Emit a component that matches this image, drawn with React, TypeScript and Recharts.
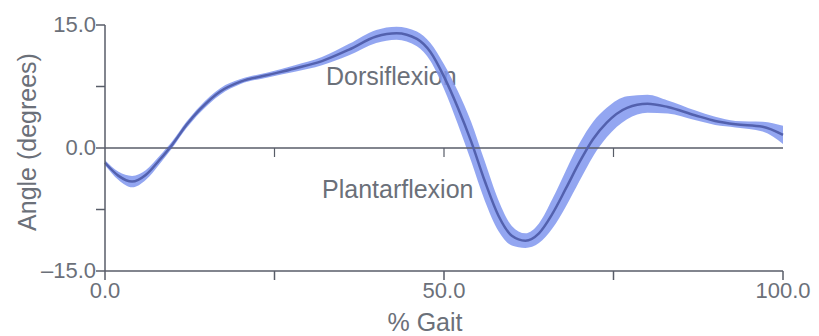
import { ComposedChart, Area, Line, XAxis, YAxis, ReferenceLine } from "recharts";

// % of gait cycle
const gaitPct = [
  0, 2, 4, 6, 8, 10, 12, 14, 17, 20, 24, 28, 32, 36, 40, 43, 46, 48, 50, 52,
  54, 56, 58, 60, 62, 64, 66, 68, 70, 72, 74, 77, 80, 83, 87, 90, 93, 97, 100,
];
// mean ankle angle (degrees)
const meanAngle = [
  -1.8, -3.4, -4.1, -3.3, -1.5, 0.5, 2.8, 4.7, 6.9, 8.1, 8.9, 9.7, 10.6, 12.0,
  13.6, 14.0, 13.3, 11.7, 8.7, 5.0, 0.8, -4.0, -8.2, -10.7, -11.3, -10.4, -8.0,
  -4.9, -1.7, 1.1, 3.1, 4.9, 5.4, 5.0, 4.0, 3.3, 2.9, 2.6, 1.6,
];
// half-width of the shaded band
const sdAngle = [
  0.3, 0.5, 0.7, 0.6, 0.5, 0.4, 0.4, 0.4, 0.4, 0.3, 0.3, 0.4, 0.5, 0.7, 0.8,
  0.8, 0.9, 1.1, 1.5, 2.0, 2.4, 2.4, 1.9, 1.2, 0.9, 1.2, 1.8, 2.2, 2.3, 2.1,
  1.8, 1.4, 1.1, 0.8, 0.6, 0.5, 0.4, 0.6, 1.1,
];

const xTicks = [0, 25, 50, 75, 100];
const yTicks = [-15, -7.5, 0, 7.5, 15];
const xLabelled = [0, 50, 100];
const yLabelled = [-15, 0, 15];

const data = gaitPct.map((x, i) => ({
  x,
  mean: meanAngle[i],
  band: [meanAngle[i] - sdAngle[i], meanAngle[i] + sdAngle[i]],
}));

const axisColor = "#585d68";
const textColor = "#6b7079";
const font = "'Liberation Sans', Arial, sans-serif";

const fmt = (v: number) => (v < 0 ? `\u2013${Math.abs(v).toFixed(1)}` : v.toFixed(1));

const YTick = (props: any) => {
  const { x, y, payload } = props;
  if (!yLabelled.includes(payload.value)) return <g />;
  return (
    <text x={x + 2} y={y} dy={7} textAnchor="end" fill={textColor} fontSize={22} fontFamily={font}>
      {fmt(payload.value)}
    </text>
  );
};

const XTick = (props: any) => {
  const { x, y, payload } = props;
  if (!xLabelled.includes(payload.value)) return <g />;
  return (
    <text x={x} y={y} dy={16} textAnchor="middle" fill={textColor} fontSize={22} fontFamily={font}>
      {fmt(payload.value)}
    </text>
  );
};

export default function App() {
  return (
    <div style={{ position: "absolute", left: 0, top: 0, background: "#fff" }}>
      <ComposedChart
        width={819}
        height={336}
        data={data}
        margin={{ top: 25, right: 36, bottom: 35, left: 45 }}
      >
        <XAxis
          dataKey="x"
          type="number"
          domain={[0, 100]}
          ticks={xTicks}
          tick={<XTick />}
          tickSize={9}
          stroke={axisColor}
          strokeWidth={1.5}
          height={30}
        />
        <YAxis
          type="number"
          domain={[-15, 15]}
          ticks={yTicks}
          tick={<YTick />}
          tickSize={9}
          stroke={axisColor}
          strokeWidth={1.5}
          width={60}
        />
        <ReferenceLine y={0} stroke={axisColor} strokeWidth={1.5} />
        {[25, 50, 75].map((t) => (
          <ReferenceLine
            key={t}
            segment={[
              { x: t, y: 0 },
              { x: t, y: -1.1 },
            ]}
            stroke={axisColor}
            strokeWidth={1.2}
          />
        ))}
        <Area
          dataKey="band"
          type="monotone"
          stroke="none"
          fill="#8096ee"
          fillOpacity={0.85}
          isAnimationActive={false}
        />
        <Line
          dataKey="mean"
          type="monotone"
          stroke="#5361ae"
          strokeWidth={2.5}
          dot={false}
          isAnimationActive={false}
        />
        <text x={326} y={85} fill={textColor} fontSize={25} fontFamily={font}>
          Dorsiflexion
        </text>
        <text x={322} y={198} fill={textColor} fontSize={25} fontFamily={font}>
          Plantarflexion
        </text>
        <text
          x={27}
          y={142}
          transform="rotate(-90, 27, 142)"
          textAnchor="middle"
          dominantBaseline="central"
          fill={textColor}
          fontSize={25}
          fontFamily={font}
        >
          Angle (degrees)
        </text>
        <text x={425} y={331} textAnchor="middle" fill={textColor} fontSize={25} fontFamily={font}>
          % Gait
        </text>
      </ComposedChart>
    </div>
  );
}
